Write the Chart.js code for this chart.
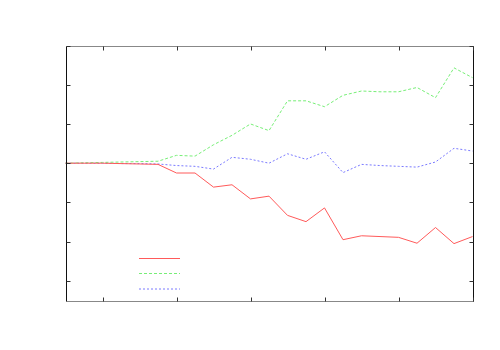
<!DOCTYPE html>
<html>
<head>
<meta charset="utf-8">
<script src="https://cdn.jsdelivr.net/npm/chart.js@4/dist/chart.umd.min.js"></script>
<style>
  html, body { margin: 0; padding: 0; background: #fff; }
  #wrap { width: 500px; height: 350px; }
</style>
</head>
<body>
<div id="wrap"><canvas id="chart"></canvas></div>
<script>
const steps = [0, 1, 2, 3, 4, 5, 6, 7, 8, 9, 10, 11, 12, 13, 14, 15, 16, 17, 18, 19, 20, 21, 22];
const redValues = [0, 0, 0, -0.01, -0.02, -0.03, -0.25, -0.25, -0.61, -0.55, -0.91, -0.84, -1.33, -1.49, -1.14, -1.95, -1.85, -1.87, -1.89, -2.04, -1.64, -2.05, -1.87];
const greenValues = [0, 0.01, 0.02, 0.03, 0.04, 0.05, 0.2, 0.18, 0.47, 0.71, 1.0, 0.83, 1.59, 1.59, 1.44, 1.73, 1.84, 1.82, 1.82, 1.93, 1.67, 2.43, 2.18];
const blueValues = [0, 0, 0, -0.01, -0.01, -0.02, -0.06, -0.08, -0.15, 0.15, 0.1, 0, 0.24, 0.1, 0.29, -0.24, -0.03, -0.06, -0.08, -0.1, 0.03, 0.38, 0.31];
const xTickSteps = [2, 6, 10, 14, 18, 22];
const yTickValues = [-3, -2, -1, 0, 1, 2, 3];

const seriesStyles = [
  { color: "#ff5a5a", dash: [] },
  { color: "#77ee77", dash: [3, 2] },
  { color: "#7a7aff", dash: [2, 2] }
];

// gnuplot-like frame with inward ticks on all four sides
const framePlugin = {
  id: "frame",
  afterDatasetsDraw(chart) {
    const { ctx, chartArea: a, scales } = chart;
    const L = Math.round(a.left) + 0.5, R = Math.round(a.right) + 0.5;
    const T = Math.round(a.top) + 0.5, B = Math.round(a.bottom) + 0.5;
    const tick = 4;
    ctx.save();
    ctx.lineWidth = 1;
    ctx.strokeStyle = "#888";
    ctx.beginPath();
    ctx.moveTo(L, T); ctx.lineTo(R, T);
    ctx.moveTo(L, B); ctx.lineTo(R, B);
    ctx.stroke();
    ctx.strokeStyle = "#111";
    ctx.beginPath();
    ctx.moveTo(L, T); ctx.lineTo(L, B);
    ctx.moveTo(R, T); ctx.lineTo(R, B);
    ctx.stroke();

    ctx.strokeStyle = "#333";
    ctx.beginPath();
    xTickSteps.forEach(v => {
      const x = Math.round(scales.x.getPixelForValue(v)) + 0.5;
      ctx.moveTo(x, B); ctx.lineTo(x, B - tick);
      ctx.moveTo(x, T); ctx.lineTo(x, T + tick);
    });
    yTickValues.forEach(v => {
      const y = Math.round(scales.y.getPixelForValue(v)) + 0.5;
      ctx.moveTo(L, y); ctx.lineTo(L + tick, y);
      ctx.moveTo(R, y); ctx.lineTo(R - tick, y);
    });
    ctx.stroke();
    ctx.restore();

    // key samples (no text in the reference)
    const keyX1 = 139, keyX2 = 180;
    const keyY = [258.5, 273.5, 289];
    seriesStyles.forEach((s, i) => {
      ctx.save();
      ctx.lineWidth = 1;
      ctx.strokeStyle = s.color;
      ctx.setLineDash(s.dash);
      ctx.beginPath();
      ctx.moveTo(keyX1, keyY[i]);
      ctx.lineTo(keyX2, keyY[i]);
      ctx.stroke();
      ctx.restore();
    });
  }
};

function makeDataset(values, style) {
  return {
    data: values,
    borderColor: style.color,
    borderDash: style.dash,
    borderWidth: 1,
    pointRadius: 0,
    tension: 0,
    fill: false
  };
}

new Chart(document.getElementById("chart"), {
  type: "line",
  data: {
    labels: steps,
    datasets: [
      makeDataset(redValues, seriesStyles[0]),
      makeDataset(greenValues, seriesStyles[1]),
      makeDataset(blueValues, seriesStyles[2])
    ]
  },
  options: {
    responsive: true,
    maintainAspectRatio: false,
    animation: false,
    layout: { padding: { left: 65.5, top: 45.5, right: 27.5, bottom: 49.5 } },
    plugins: { legend: { display: false }, tooltip: { enabled: false } },
    scales: {
      x: { type: "category", display: false, offset: false },
      y: { type: "linear", display: false, min: -3.5, max: 3 }
    }
  },
  plugins: [framePlugin]
});
</script>
</body>
</html>
